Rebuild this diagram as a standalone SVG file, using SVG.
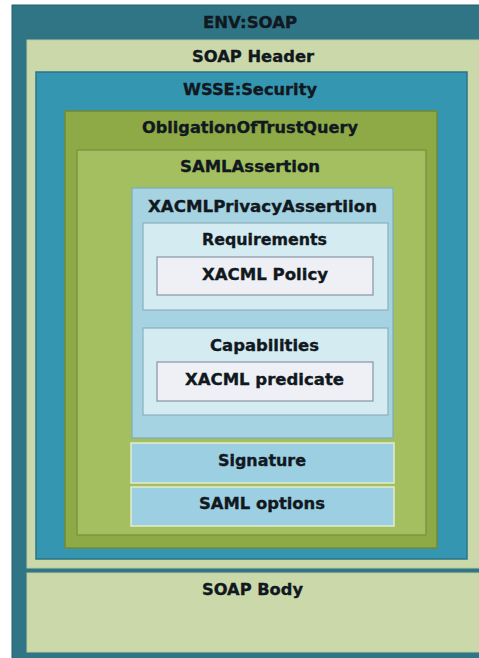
<svg xmlns="http://www.w3.org/2000/svg" width="479" height="658" viewBox="0 0 479 658">
<style>
text{font-family:"DejaVu Sans","Liberation Sans",sans-serif;font-weight:bold;font-size:16px;fill:#111820;stroke:#111820;stroke-width:0.35px;text-anchor:middle}
.teal{fill:#2f7586;stroke:#275f6d;stroke-width:1}
.lgreen{fill:#cbd9aa;stroke:#bccb9a;stroke-width:1}
.wsse{fill:#3596b1;stroke:#2a7489;stroke-width:1.5}
.oblig{fill:#8eaa47;stroke:#6f8a36;stroke-width:1.5}
.saml{fill:#a3bf5f;stroke:#7c9642;stroke-width:1.5}
.xacml{fill:#a5d3e2;stroke:#7caebd;stroke-width:1.2}
.req{fill:#d4ebf2;stroke:#8ab0bb;stroke-width:1.2}
.pol{fill:#eef0f6;stroke:#8595a2;stroke-width:1.2}
.sig{fill:#9dcfe2;stroke:#e4edcc;stroke-width:1.5}
</style>
<rect width="479" height="658" fill="#ffffff"/>
<g id="env-soap">
<rect class="teal" x="12" y="5" width="470" height="660"/>
<text x="250" y="27.5" textLength="94" lengthAdjust="spacingAndGlyphs">ENV:SOAP</text>
</g>
<g id="soap-header">
<rect class="lgreen" x="27" y="40" width="455" height="528"/>
<text x="253" y="61.5" textLength="122" lengthAdjust="spacingAndGlyphs">SOAP Header</text>
</g>
<g id="wsse-security">
<rect class="wsse" x="36" y="72" width="431" height="487"/>
<text x="250" y="94.5" textLength="134" lengthAdjust="spacingAndGlyphs">WSSE:Security</text>
</g>
<g id="obligation">
<rect class="oblig" x="65" y="111" width="372" height="437"/>
<text x="250" y="132.5" textLength="216" lengthAdjust="spacingAndGlyphs">ObligationOfTrustQuery</text>
</g>
<g id="saml-assertion">
<rect class="saml" x="77" y="150" width="349" height="385"/>
<text x="250" y="172" textLength="140" lengthAdjust="spacingAndGlyphs">SAMLAssertion</text>
</g>
<g id="xacml-privacy">
<rect class="xacml" x="132" y="188" width="261" height="250"/>
<text x="262.5" y="211.5" textLength="229" lengthAdjust="spacingAndGlyphs">XACMLPrivacyAssertiion</text>
</g>
<g id="requirements">
<rect class="req" x="143" y="223" width="245" height="87"/>
<text x="264.5" y="245" textLength="125" lengthAdjust="spacingAndGlyphs">Requirements</text>
</g>
<g id="xacml-policy">
<rect class="pol" x="157" y="257" width="216" height="38"/>
<text x="265" y="279.5" textLength="126" lengthAdjust="spacingAndGlyphs">XACML Policy</text>
</g>
<g id="capabilities">
<rect class="req" x="143" y="328" width="245" height="87"/>
<text x="264.5" y="350.5" textLength="109" lengthAdjust="spacingAndGlyphs">Capabilities</text>
</g>
<g id="xacml-predicate">
<rect class="pol" x="157" y="362" width="216" height="39"/>
<text x="264.5" y="384.5" textLength="159" lengthAdjust="spacingAndGlyphs">XACML predicate</text>
</g>
<g id="signature">
<rect class="sig" x="131" y="443" width="263" height="40"/>
<text x="262" y="465.5" textLength="88" lengthAdjust="spacingAndGlyphs">Signature</text>
</g>
<g id="saml-options">
<rect class="sig" x="131" y="487" width="263" height="39"/>
<text x="262" y="508.5" textLength="126" lengthAdjust="spacingAndGlyphs">SAML options</text>
</g>
<g id="soap-body">
<rect class="lgreen" x="27" y="573" width="455" height="79"/>
<text x="252.5" y="594.5" textLength="101" lengthAdjust="spacingAndGlyphs">SOAP Body</text>
</g>
</svg>
